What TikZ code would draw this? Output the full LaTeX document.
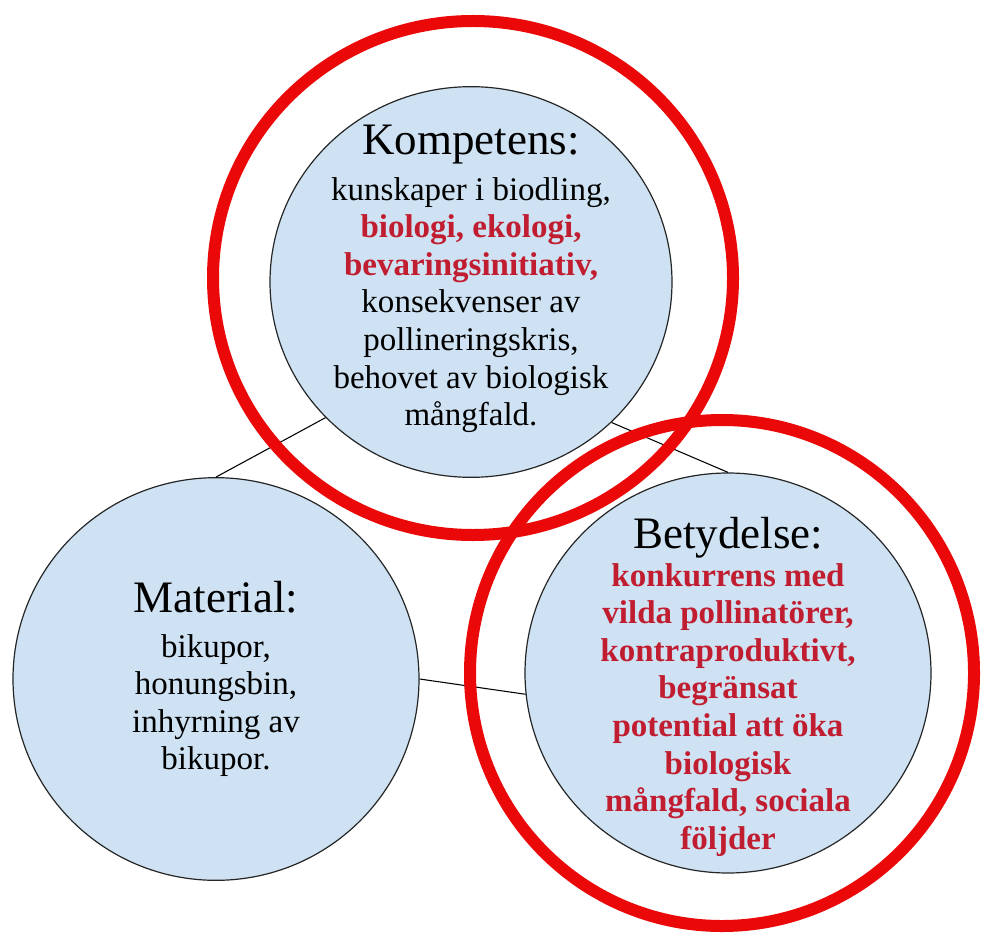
\documentclass[tikz,border=0pt]{standalone}
\usepackage{fontspec}
\setmainfont{Liberation Serif}
\usepackage{tikz}
\usetikzlibrary{shapes.geometric}
\definecolor{bubblefill}{RGB}{207,226,243}
\definecolor{ringred}{RGB}{234,8,8}
\definecolor{txtred}{RGB}{192,30,48}

\begin{document}
\begin{tikzpicture}[x=0.75pt,y=-0.75pt,
	bubble/.style = {draw=black!85,fill=bubblefill,ellipse,inner sep=0pt,line width=0.9pt},
	head/.style = {font=\fontsize{33.75}{40}\selectfont,anchor=base,inner sep=0pt},
	body/.style = {font=\fontsize{24.75}{28.2}\selectfont,align=center,anchor=north,inner sep=0pt},
	ring/.style = {draw=ringred,line width=9pt}
	]
	\useasboundingbox (0,0) rectangle (984,941);
	\fill[white] (0,0) rectangle (984,941);
	%CERCHI
	\node[bubble,minimum width=301.5pt,minimum height=293pt] (@K) at (471,282) {};
	\node[bubble,minimum width=304.5pt,minimum height=302pt] (@M) at (216,679) {};
	\node[bubble,minimum width=304.5pt,minimum height=300pt] (@B) at (728,673) {};
	%Collegamenti
	\draw[line width=0.8pt] (@K.223) -- (@M.north);
	\draw[line width=0.8pt] (@K.-45) -- (@B.north);
	\draw[line width=0.8pt] (@M.east) -- (@B.186);
	%Testi
	\node[head] (@Kt) at (471,155) {Kompetens:};
	\node[body] (@Kb) at (471,177) {kunskaper i biodling,\\
		{\color{txtred}\bfseries biologi, ekologi,}\\
		{\color{txtred}\bfseries bevaringsinitiativ,}\\
		konsekvenser av\\
		pollineringskris,\\
		behovet av biologisk\\
		mångfald.};
	\node[head] (@Mt) at (216,612) {Material:};
	\node[body] (@Mb) at (216,634) {bikupor,\\ honungsbin,\\ inhyrning av\\ bikupor.};
	\node[head] (@Bt) at (728,548) {Betydelse:};
	\node[body,text=txtred,font=\fontsize{24.75}{28.2}\selectfont\bfseries] (@Bb) at (728,563) {konkurrens med\\
		vilda pollinatörer,\\
		kontraproduktivt,\\
		begränsat\\
		potential att öka\\
		biologisk\\
		mångfald, sociala\\
		följder};
	%Anelli rossi
	\draw[ring] (473,278) ellipse [x radius=260, y radius=257];
	\draw[ring] (722,673) ellipse [x radius=252, y radius=253];
\end{tikzpicture}
\end{document}
